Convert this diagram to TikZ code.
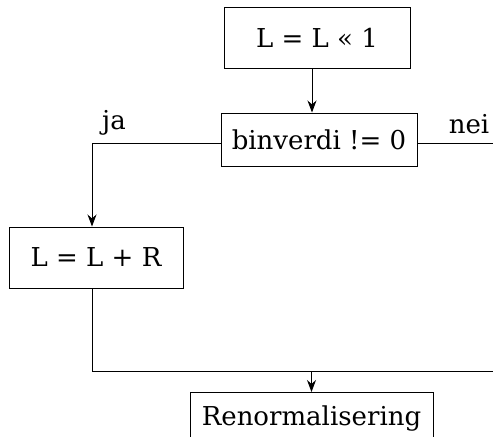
\documentclass[tikz,border=0pt]{standalone}
\usepackage{fontspec}
\setmainfont{DejaVu Serif}
\usepackage{tikz}
\usetikzlibrary{positioning,arrows.meta,calc}

\begin{document}
\begin{tikzpicture}[
    x=1pt, y=1pt,
    font=\fontsize{13}{15}\selectfont,
    flowbox/.style={rectangle, draw, line width=0.5pt, inner sep=0pt, fill=white},
    flowline/.style={line width=0.5pt},
    flowarrow/.style={line width=0.5pt, -{Stealth[length=6pt, width=4.5pt]}}
]

% Picture frame
\clip (0,0) rectangle (246.5,-218);

% Flowchart boxes
\node[flowbox, minimum width=93pt, minimum height=30.5pt] (shift) at (158.5,-18.75) {L = L « 1};
\node[flowbox, minimum width=98pt, minimum height=26.5pt] (test) at (159.5,-69.75) {binverdi != 0};
\node[flowbox, minimum width=87pt, minimum height=30.5pt] (add) at (48,-128.75) {L = L + R};
\node[flowbox, minimum width=121.5pt, minimum height=26.5pt] (renorm) at (155.75,-209.5) {Renormalisering};

% Loose ends of the lines
\coordinate (neiend) at (250,-71.75);
\coordinate (mergeend) at (250,-185.5);

% Connectors
\draw[flowarrow] ([xshift=-2.5pt]shift.south) -- ([xshift=-3.5pt]test.north);
\draw[flowarrow] ([yshift=-2pt]test.west) -| ([xshift=-2pt]add.north);
\draw[flowline] ([yshift=-2pt]test.east) -- (neiend);
\draw[flowline] ([xshift=-2pt]add.south) |- (mergeend);
\draw[flowarrow] (renorm.north |- mergeend) -- (renorm.north);

% Branch labels
\node[anchor=base] (ja) at (57,-64.5) {ja};
\node[anchor=base] (nei) at (234.5,-66.5) {nei};

\end{tikzpicture}
\end{document}
